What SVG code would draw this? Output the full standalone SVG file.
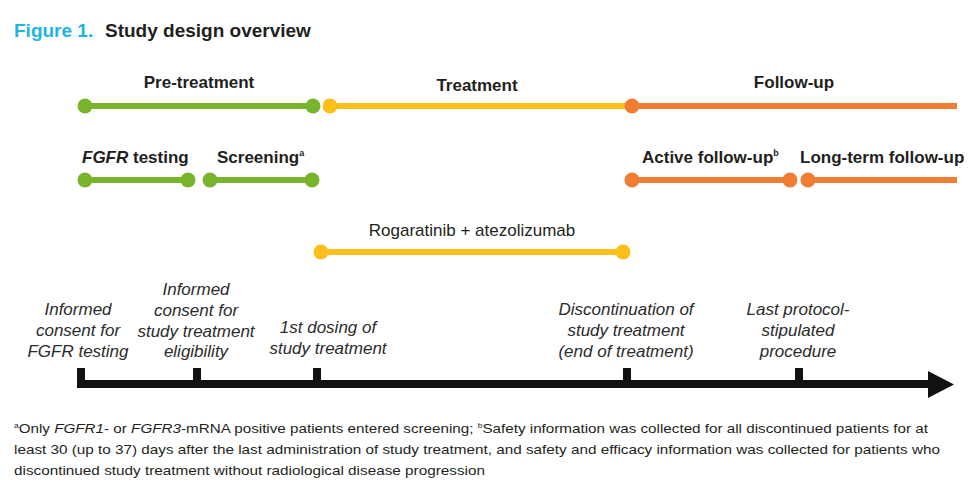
<svg xmlns="http://www.w3.org/2000/svg" width="974" height="491" viewBox="0 0 974 491">
<style>
text{font-family:"Liberation Sans",Arial,sans-serif;fill:#231f20}
.t{font-size:19px;font-weight:bold}
.h{font-size:17px;font-weight:bold}
.r{font-size:17px}
.i{font-size:17px;font-style:italic;fill:#2b2b2b}
.f{font-size:13.5px}
.g{stroke:#78b52c}
.y{stroke:#fcbf17}
.o{stroke:#ef7e33}
.bar{stroke-width:6;fill:none}
.gd{fill:#78b52c}
.yd{fill:#fcbf17}
.od{fill:#ef7e33}
.sup{font-size:9px}
.fs{font-size:7.5px}
</style>
<rect width="974" height="491" fill="#fff"/>
<g id="title">
<text class="t" x="14" y="37"><tspan fill="#20b4e6">Figure 1.</tspan><tspan x="105">Study design overview</tspan></text>
</g>
<g id="connectors">
<line class="bar g" x1="85" y1="106" x2="313" y2="106"/>
<line class="bar y" x1="330" y1="106" x2="632" y2="106"/>
<line class="bar o" x1="632" y1="106" x2="957" y2="106"/>
<line class="bar g" x1="85" y1="180" x2="188" y2="180"/>
<line class="bar g" x1="210" y1="180" x2="312" y2="180"/>
<line class="bar o" x1="632" y1="180" x2="790" y2="180"/>
<line class="bar o" x1="808" y1="180" x2="957" y2="180"/>
<line class="bar y" x1="321" y1="252" x2="623" y2="252"/>
<line x1="77" y1="384" x2="932" y2="384" stroke="#111" stroke-width="8"/>
<polygon points="928,371 954,384.5 928,398" fill="#111"/>
<g fill="#111">
<rect x="77" y="368" width="8" height="16"/>
<rect x="193" y="368" width="8" height="16"/>
<rect x="313" y="368" width="8" height="16"/>
<rect x="623" y="368" width="8" height="16"/>
<rect x="795" y="368" width="8" height="16"/>
</g>
</g>
<g id="pretreatment">
<text class="h" x="199" y="88" text-anchor="middle">Pre-treatment</text>
<circle class="gd" cx="85" cy="106" r="7.5"/>
<circle class="gd" cx="313" cy="106" r="7.5"/>
</g>
<g id="treatment">
<text class="h" x="477" y="91" text-anchor="middle">Treatment</text>
<circle class="yd" cx="330" cy="106" r="7.5"/>
</g>
<g id="followup">
<text class="h" x="794" y="88" text-anchor="middle">Follow-up</text>
<circle class="od" cx="632" cy="106" r="7.5"/>
</g>
<g id="fgfr-testing">
<text class="h" x="82" y="163"><tspan font-style="italic">FGFR</tspan> testing</text>
<circle class="gd" cx="85" cy="180" r="7.5"/>
<circle class="gd" cx="188" cy="180" r="7.5"/>
</g>
<g id="screening">
<text class="h" x="217" y="163">Screening<tspan class="sup" dy="-7">a</tspan></text>
<circle class="gd" cx="210" cy="180" r="7.5"/>
<circle class="gd" cx="312" cy="180" r="7.5"/>
</g>
<g id="active-followup">
<text class="h" x="642" y="163">Active follow-up<tspan class="sup" dy="-7">b</tspan></text>
<circle class="od" cx="632" cy="180" r="7.5"/>
<circle class="od" cx="790" cy="180" r="7.5"/>
</g>
<g id="longterm-followup">
<text class="h" x="800" y="163">Long-term follow-up</text>
<circle class="od" cx="808" cy="180" r="7.5"/>
</g>
<g id="rogaratinib">
<text class="r" x="472" y="236" text-anchor="middle">Rogaratinib + atezolizumab</text>
<circle class="yd" cx="321" cy="252" r="7.5"/>
<circle class="yd" cx="623" cy="252" r="7.5"/>
</g>
<g id="m1">
<text class="i" text-anchor="middle"><tspan x="78" y="315">Informed</tspan><tspan x="78" y="336">consent for</tspan><tspan x="78" y="357">FGFR testing</tspan></text>
</g>
<g id="m2">
<text class="i" text-anchor="middle"><tspan x="196" y="295">Informed</tspan><tspan x="196" y="316">consent for</tspan><tspan x="196" y="337">study treatment</tspan><tspan x="196" y="357">eligibility</tspan></text>
</g>
<g id="m3">
<text class="i" text-anchor="middle"><tspan x="328" y="333">1st dosing of</tspan><tspan x="328" y="354">study treatment</tspan></text>
</g>
<g id="m4">
<text class="i" text-anchor="middle"><tspan x="626" y="315">Discontinuation of</tspan><tspan x="626" y="336">study treatment</tspan><tspan x="626" y="357">(end of treatment)</tspan></text>
</g>
<g id="m5">
<text class="i" text-anchor="middle"><tspan x="798" y="315">Last protocol-</tspan><tspan x="798" y="336">stipulated</tspan><tspan x="798" y="357">procedure</tspan></text>
</g>
<g id="footnote">
<text class="f" x="14" y="433" textLength="914" lengthAdjust="spacingAndGlyphs"><tspan class="fs" dy="-5">a</tspan><tspan dy="5">Only </tspan><tspan font-style="italic">FGFR1</tspan>- or <tspan font-style="italic">FGFR3</tspan>-mRNA positive patients entered screening; <tspan class="fs" dy="-5">b</tspan><tspan dy="5">Safety information was collected for all discontinued patients for at</tspan></text>
<text class="f" x="14" y="454" textLength="926" lengthAdjust="spacingAndGlyphs">least 30 (up to 37) days after the last administration of study treatment, and safety and efficacy information was collected for patients who</text>
<text class="f" x="14" y="475" textLength="471" lengthAdjust="spacingAndGlyphs">discontinued study treatment without radiological disease progression</text>
</g>
</svg>
